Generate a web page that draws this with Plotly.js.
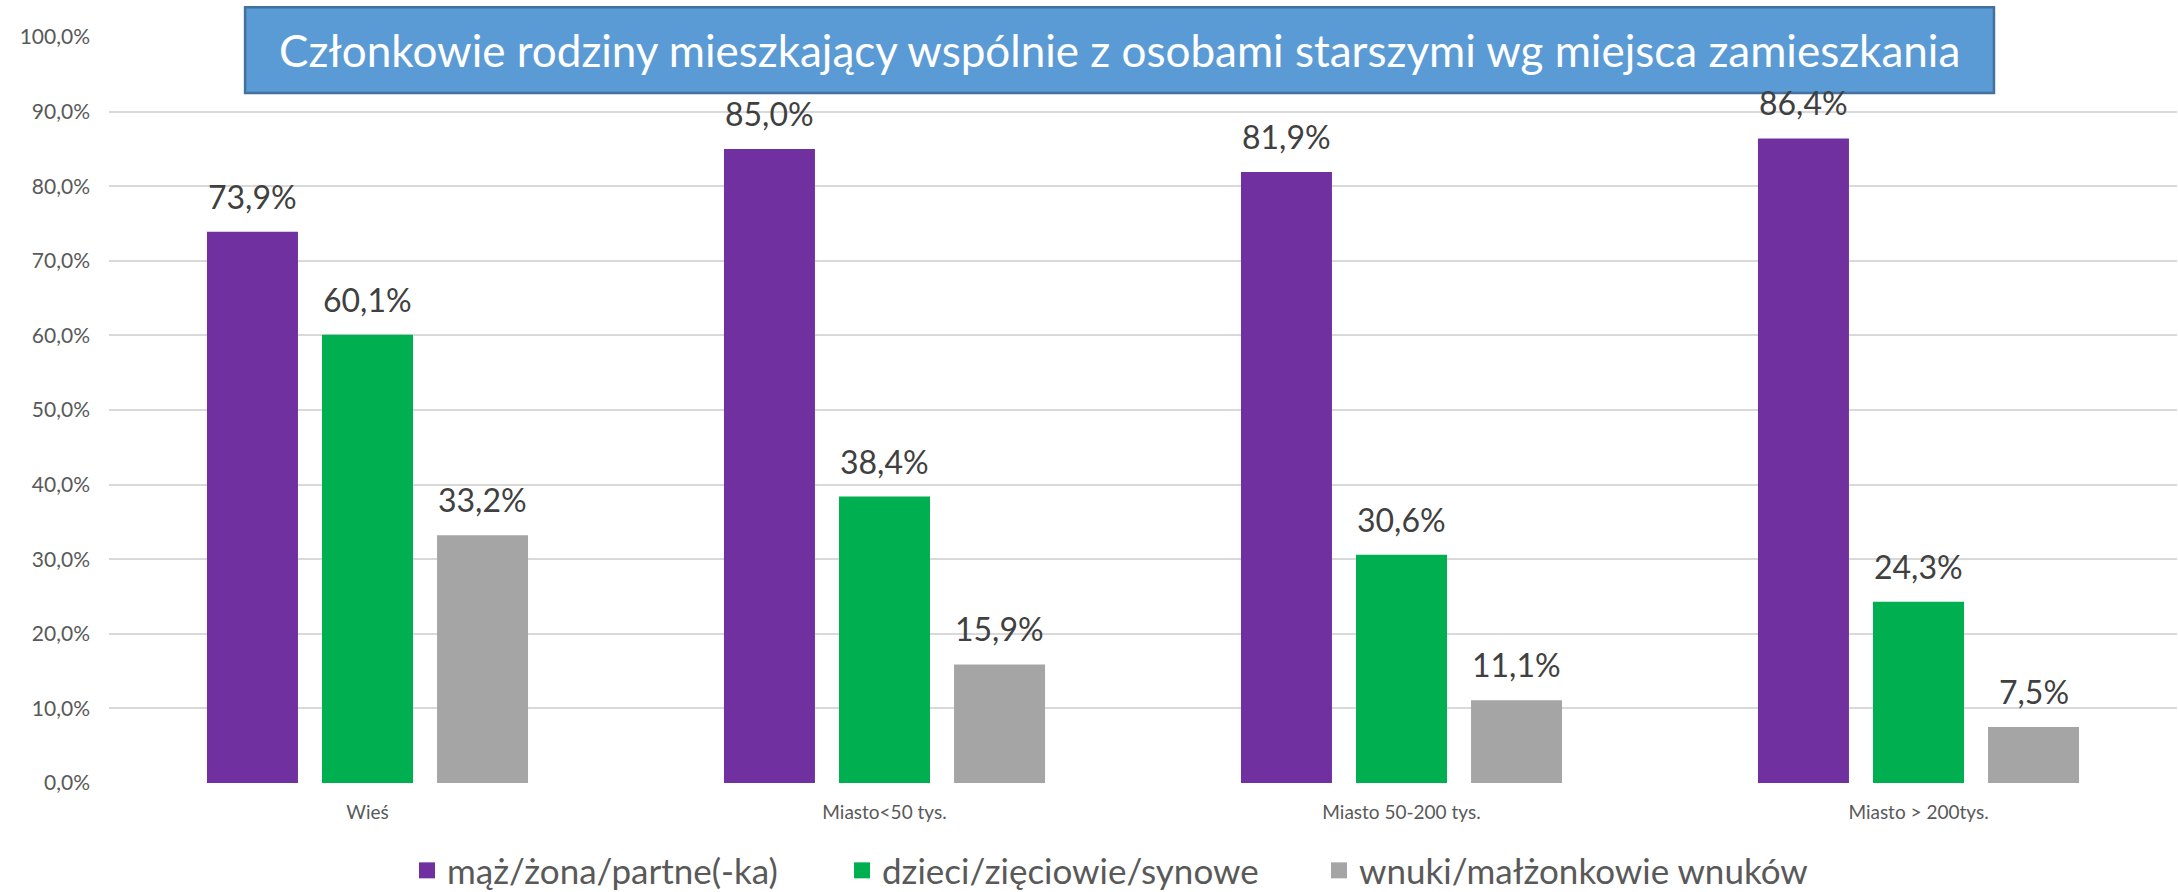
<!DOCTYPE html>
<html>
<head>
<meta charset="utf-8">
<script src="https://cdn.plot.ly/plotly-3.0.1.min.js"></script>
<style>html,body{margin:0;padding:0;background:#fff;}#chart{width:2178px;height:892px;}</style>
</head>
<body>
<div id="chart"></div>
<script>
const categories = ["Wieś", "Miasto<50 tys.", "Miasto 50-200 tys.", "Miasto > 200tys."];
const seriesNames = ["mąż/żona/partne(-ka)", "dzieci/zięciowie/synowe", "wnuki/małżonkowie wnuków"];
const spouse = [73.9, 85.0, 81.9, 86.4];
const children = [60.1, 38.4, 30.6, 24.3];
const grandchildren = [33.2, 15.9, 11.1, 7.5];
const colors = ["#7030A0", "#00B050", "#A5A5A5"];
const titleText = "Członkowie rodziny mieszkający wspólnie z osobami starszymi wg miejsca zamieszkania";

const FONT = 'Lato, "Open Sans", sans-serif';
const allSeries = [spouse, children, grandchildren];
const barWidth = 0.176;
const step = 0.2225;
const offsets = [-step, 0, step];
const legendIds = ['legend', 'legend2', 'legend3'];
const legendLeft = [407, 842, 1319];

const traces = [];
allSeries.forEach((vals, i) => {
  traces.push({
    type: 'bar', x: categories, y: vals, name: seriesNames[i],
    marker: {color: colors[i]}, width: barWidth, offset: offsets[i] - barWidth / 2,
    showlegend: false, legendgroup: 'g' + i, hoverinfo: 'y'
  });
});
allSeries.forEach((vals, i) => {
  traces.push({
    type: 'scatter', mode: 'markers', x: [null], y: [null], name: seriesNames[i],
    marker: {color: colors[i], symbol: 'square', size: 21}, legendgroup: 'g' + i,
    legend: legendIds[i], showlegend: true, hoverinfo: 'skip'
  });
});

const fmt = v => v.toFixed(1).replace('.', ',') + '%';
const annotations = [];
allSeries.forEach((vals, i) => {
  vals.forEach((v, j) => {
    annotations.push({
      xref: 'x', yref: 'y', x: j + offsets[i], y: v, text: fmt(v), showarrow: false,
      yanchor: 'bottom', xanchor: 'center', yshift: 14,
      font: {family: FONT, size: 32, color: '#404040'}
    });
  });
});
annotations.push({
  xref: 'paper', yref: 'paper', x: 0.4886, y: 0.9826, text: titleText, showarrow: false,
  xanchor: 'center', yanchor: 'middle',
  font: {family: FONT, size: 44, color: '#FFFFFF'}
});

const layout = {
  width: 2178, height: 892,
  margin: {l: 109, r: 1, t: 37, b: 109},
  paper_bgcolor: '#FFFFFF', plot_bgcolor: '#FFFFFF',
  separators: ', ',
  barmode: 'overlay',
  font: {family: FONT, color: '#595959'},
  xaxis: {
    type: 'category', showgrid: false, zeroline: false, showline: false, ticks: '',
    tickfont: {family: FONT, size: 19, color: '#595959'}, ticklabelstandoff: 16,
    range: [-0.5, 3.5]
  },
  yaxis: {
    range: [0, 100], dtick: 10, tickformat: '.1f', ticksuffix: '%',
    showgrid: true, gridcolor: '#D9D9D9', gridwidth: 2, zeroline: false, showline: false,
    tickfont: {family: FONT, size: 21, color: '#595959'}, ticklabelstandoff: 18
  },
  showlegend: true,
  shapes: [{
    type: 'rect', xref: 'paper', yref: 'paper', x0: 0.0658, x1: 0.9115, y0: 0.925, y1: 1.040,
    fillcolor: '#5B9BD5', line: {color: '#41719C', width: 2.5}, layer: 'above'
  }],
  annotations: annotations
};
legendIds.forEach((id, i) => {
  layout[id] = {
    orientation: 'h', xref: 'container', yref: 'container',
    x: legendLeft[i] / 2178, xanchor: 'left', y: 0.024, yanchor: 'middle',
    font: {family: FONT, size: 35, color: '#595959'},
    itemsizing: 'trace', itemclick: false, bgcolor: 'rgba(0,0,0,0)'
  };
});

Plotly.newPlot('chart', traces, layout, {displayModeBar: false, staticPlot: true});
</script>
</body>
</html>
